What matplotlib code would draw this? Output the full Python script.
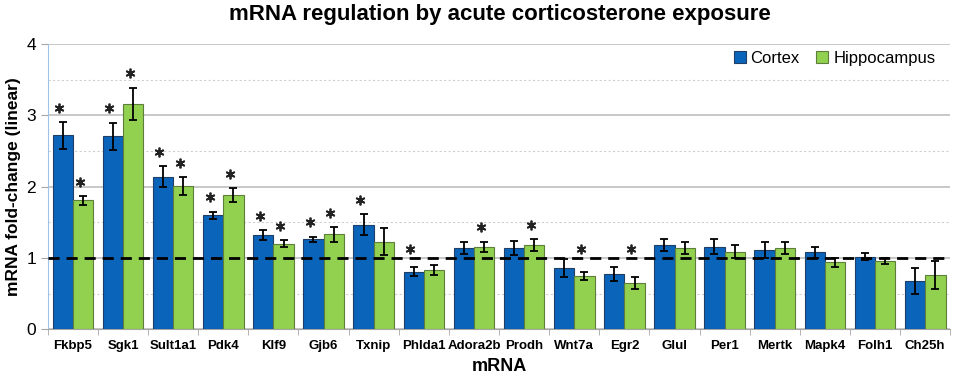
import numpy as np
import matplotlib.pyplot as plt
from matplotlib.ticker import MultipleLocator

plt.rcParams['font.family'] = ['Liberation Sans', 'DejaVu Sans']

# данные
genes = ["Fkbp5", "Sgk1", "Sult1a1", "Pdk4", "Klf9", "Gjb6", "Txnip", "Phlda1",
         "Adora2b", "Prodh", "Wnt7a", "Egr2", "Glul", "Per1", "Mertk", "Mapk4",
         "Folh1", "Ch25h"]
cortex = [2.72, 2.71, 2.14, 1.60, 1.32, 1.26, 1.47, 0.81, 1.14, 1.14, 0.86, 0.78,
          1.18, 1.16, 1.11, 1.08, 1.02, 0.68]
cortex_err = [0.19, 0.19, 0.15, 0.05, 0.07, 0.04, 0.15, 0.06, 0.08, 0.10, 0.13, 0.10,
              0.08, 0.11, 0.11, 0.08, 0.05, 0.18]
hippo = [1.81, 3.16, 2.01, 1.88, 1.20, 1.33, 1.23, 0.83, 1.16, 1.18, 0.75, 0.65,
         1.14, 1.09, 1.14, 0.94, 0.96, 0.76]
hippo_err = [0.06, 0.23, 0.12, 0.10, 0.05, 0.10, 0.19, 0.07, 0.07, 0.08, 0.06, 0.09,
             0.09, 0.09, 0.09, 0.06, 0.04, 0.20]
cortex_sig = [1, 1, 1, 1, 1, 1, 1, 1, 0, 0, 0, 0, 0, 0, 0, 0, 0, 0]
hippo_sig = [1, 1, 1, 1, 1, 1, 0, 0, 1, 1, 1, 1, 0, 0, 0, 0, 0, 0]

blue = "#0A64BA"
green = "#92D050"

fig = plt.figure(figsize=(9.56, 3.74), dpi=100)
ax = fig.add_axes([0.050, 0.1195, 0.944, 0.7625])

x = np.arange(len(genes))
w = 0.405

ax.bar(x - w / 2, cortex, w, color=blue, edgecolor="#1F3F66", linewidth=0.8,
       label="Cortex", zorder=3)
ax.bar(x + w / 2, hippo, w, color=green, edgecolor="#5E7F3A", linewidth=0.8,
       label="Hippocampus", zorder=3)
ax.errorbar(x - w / 2, cortex, yerr=cortex_err, fmt="none", ecolor="black",
            elinewidth=1.3, capsize=3, capthick=1.3, zorder=4)
ax.errorbar(x + w / 2, hippo, yerr=hippo_err, fmt="none", ecolor="black",
            elinewidth=1.3, capsize=3, capthick=1.3, zorder=4)

# звёздочки значимости (над планкой погрешности, но не ниже пунктира)
for i in range(len(genes)):
    if cortex_sig[i]:
        y = max(cortex[i] + cortex_err[i] + 0.2, 1.13)
        ax.plot(x[i] - w / 2 - 0.07, y, linestyle="none", marker=(6, 2, 0),
                markersize=7, markeredgewidth=1.3, color="#222222", zorder=5)
    if hippo_sig[i]:
        y = max(hippo[i] + hippo_err[i] + 0.2, 1.13)
        ax.plot(x[i] + w / 2 - 0.07, y, linestyle="none", marker=(6, 2, 0),
                markersize=7, markeredgewidth=1.3, color="#222222", zorder=5)

# линия y = 1
ax.axhline(1, color="black", linestyle=(0, (4, 2.5)), linewidth=2, zorder=6)

ax.set_xlim(-0.5, len(genes) - 0.5)
ax.set_ylim(0, 4)
ax.yaxis.set_major_locator(MultipleLocator(1))
ax.yaxis.set_minor_locator(MultipleLocator(0.5))
ax.grid(axis="y", which="major", color="#BFBFBF", linewidth=1.2, zorder=0)
ax.grid(axis="y", which="minor", color="#D0D0D0", linestyle=(0, (2, 2)),
        linewidth=0.8, zorder=0)
ax.set_axisbelow(True)

ax.set_xticks(x)
ax.set_xticklabels(genes, fontweight="bold", fontsize=9.5)
ax.set_xticks(np.arange(len(genes) + 1) - 0.5, minor=True)
ax.tick_params(axis="x", which="major", length=0, pad=8)
ax.tick_params(axis="x", which="minor", length=4, color="#A6A6A6")
ax.tick_params(axis="y", which="major", labelsize=12.5, length=5, color="#A6A6A6")
ax.tick_params(axis="y", which="minor", length=0)

for s in ["top", "right"]:
    ax.spines[s].set_visible(False)
ax.spines["left"].set_color("#9DC3E6")
ax.spines["bottom"].set_color("#A6A6A6")

ax.set_xlabel("mRNA", fontweight="bold", fontsize=13, labelpad=4)
ax.set_ylabel("mRNA fold-change (linear)", fontweight="bold", fontsize=12.5,
              labelpad=4)
fig.suptitle("mRNA regulation by acute corticosterone exposure",
             fontweight="bold", fontsize=16, x=0.523, y=0.99)

ax.legend(loc="upper right", bbox_to_anchor=(1.0, 1.03), frameon=False,
          fontsize=12, handlelength=0.7, handleheight=0.7, handletextpad=0.3,
          columnspacing=1.0, ncol=2)

plt.savefig("out.png", dpi=100)
